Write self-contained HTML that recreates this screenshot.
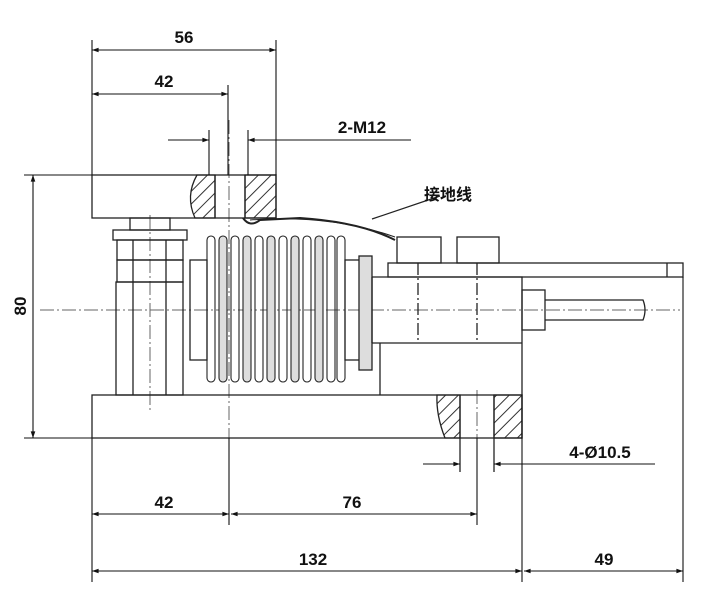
<!DOCTYPE html>
<html><head><meta charset="utf-8"><style>html,body{margin:0;padding:0;background:#fff}svg{display:block}</style></head><body>
<svg width="724" height="614" viewBox="0 0 724 614" xmlns="http://www.w3.org/2000/svg" font-family="Liberation Sans, Noto Sans CJK SC, sans-serif">
<defs>
<pattern id="h" width="9" height="9" patternUnits="userSpaceOnUse" patternTransform="rotate(45)"><line x1="0" y1="0" x2="0" y2="9" stroke="#333" stroke-width="2"/></pattern>
<marker id="a" viewBox="0 0 10 10" refX="10" refY="5" markerWidth="9" markerHeight="6" orient="auto-start-reverse"><path d="M0,1.5 L10,5 L0,8.5z" fill="#111"/></marker>
</defs>
<g stroke="#222" fill="none" stroke-width="1.3">
<g stroke="#666" stroke-width="1" stroke-dasharray="14,3,2,3">
<line x1="40" y1="310" x2="680" y2="310"/>
<line x1="150" y1="215" x2="150" y2="410"/>
<line x1="229" y1="120" x2="229" y2="525"/>
<line x1="477" y1="390" x2="477" y2="470"/>
</g>
<rect x="92" y="175" width="184" height="43"/>
<path d="M197,175 Q185,196 195,218 L215,218 L215,175Z" fill="url(#h)"/>
<rect x="245" y="175" width="31" height="43" fill="url(#h)"/>
<line x1="215" y1="175" x2="215" y2="218"/><line x1="245" y1="175" x2="245" y2="218"/>
<rect x="130" y="218" width="40" height="12"/>
<rect x="113" y="230" width="74" height="10"/>
<rect x="117" y="240" width="66" height="20"/>
<rect x="117" y="260" width="66" height="22"/>
<rect x="116" y="282" width="67" height="113"/>
<line x1="133" y1="240" x2="133" y2="395"/><line x1="166" y1="240" x2="166" y2="395"/>
<rect x="190" y="260" width="17" height="100"/>
<g stroke-width="1.1">
<rect x="207" y="236" width="8" height="146" rx="4"/><rect x="219" y="236" width="8" height="146" rx="4" fill="#ddd"/>
<rect x="231" y="236" width="8" height="146" rx="4"/><rect x="243" y="236" width="8" height="146" rx="4" fill="#ddd"/>
<rect x="255" y="236" width="8" height="146" rx="4"/><rect x="267" y="236" width="8" height="146" rx="4" fill="#ddd"/>
<rect x="279" y="236" width="8" height="146" rx="4"/><rect x="291" y="236" width="8" height="146" rx="4" fill="#ddd"/>
<rect x="303" y="236" width="8" height="146" rx="4"/><rect x="315" y="236" width="8" height="146" rx="4" fill="#ddd"/>
<rect x="327" y="236" width="8" height="146" rx="4"/><rect x="337" y="236" width="8" height="146" rx="4"/>
</g>
<rect x="345" y="260" width="20" height="100"/>
<rect x="359" y="256" width="13" height="114" fill="#ddd"/>
<path d="M243,218 Q250,228 260,220 L300,218 Q360,222 395,240" stroke-width="2"/>
<path d="M250,220 Q330,214 395,237" stroke-width="1"/>
<line x1="440" y1="196" x2="372" y2="219" stroke-width="1.2"/>
<rect x="397" y="237" width="44" height="26"/><rect x="457" y="237" width="42" height="26"/>
<rect x="388" y="263" width="295" height="14"/>
<line x1="667" y1="263" x2="667" y2="277"/>
<path d="M372,277 L522,277 L522,395 M372,343 L522,343 M380,343 L380,395 M372,277 L372,343"/>
<line x1="418" y1="263" x2="418" y2="343" stroke-dasharray="12,3,2,3"/>
<line x1="477" y1="263" x2="477" y2="343" stroke-dasharray="12,3,2,3"/>
<rect x="522" y="290" width="23" height="40"/>
<path d="M545,300 L643,300 Q647,310 643,320 L545,320"/>
<rect x="92" y="395" width="430" height="43"/>
<path d="M437,395 L460,395 L460,438 L445,438 Q436,415 437,395Z" fill="url(#h)"/>
<rect x="494" y="395" width="28" height="43" fill="url(#h)"/>
<line x1="460" y1="395" x2="460" y2="472"/><line x1="494" y1="395" x2="494" y2="472"/>
<g stroke="#111" stroke-width="1.1">
<line x1="92" y1="40" x2="92" y2="175"/><line x1="276" y1="40" x2="276" y2="175"/>
<line x1="92" y1="50" x2="276" y2="50" marker-start="url(#a)" marker-end="url(#a)"/>
<line x1="228" y1="85" x2="228" y2="175"/>
<line x1="92" y1="94" x2="228" y2="94" marker-start="url(#a)" marker-end="url(#a)"/>
<line x1="209" y1="130" x2="209" y2="175"/><line x1="248" y1="130" x2="248" y2="175"/>
<line x1="168" y1="140" x2="209" y2="140" marker-end="url(#a)"/>
<line x1="411" y1="140" x2="248" y2="140" marker-end="url(#a)"/>
<line x1="24" y1="175" x2="92" y2="175"/><line x1="24" y1="438" x2="92" y2="438"/>
<line x1="33" y1="175" x2="33" y2="438" marker-start="url(#a)" marker-end="url(#a)"/>
<line x1="92" y1="438" x2="92" y2="582"/><line x1="522" y1="395" x2="522" y2="582"/><line x1="683" y1="277" x2="683" y2="582"/>
<line x1="229" y1="438" x2="229" y2="525"/><line x1="477" y1="438" x2="477" y2="525"/>
<line x1="92" y1="514" x2="229" y2="514" marker-start="url(#a)" marker-end="url(#a)"/>
<line x1="231" y1="514" x2="477" y2="514" marker-start="url(#a)" marker-end="url(#a)"/>
<line x1="92" y1="571" x2="522" y2="571" marker-start="url(#a)" marker-end="url(#a)"/>
<line x1="524" y1="571" x2="683" y2="571" marker-start="url(#a)" marker-end="url(#a)"/>
<line x1="423" y1="464" x2="460" y2="464" marker-end="url(#a)"/>
<line x1="655" y1="464" x2="494" y2="464" marker-end="url(#a)"/>
</g>
</g>
<g fill="#111" font-size="17" font-weight="bold" text-anchor="middle">
<text x="184" y="43">56</text>
<text x="164" y="87">42</text>
<text x="362" y="133">2-M12</text>
<text x="448" y="200" font-size="16">接地线</text>
<text x="600" y="458">4-Ø10.5</text>
<text x="164" y="508">42</text>
<text x="352" y="508">76</text>
<text x="313" y="565">132</text>
<text x="604" y="565">49</text>
<text x="0" y="0" transform="translate(26,306) rotate(-90)">80</text>
</g>
</svg>
</body></html>
